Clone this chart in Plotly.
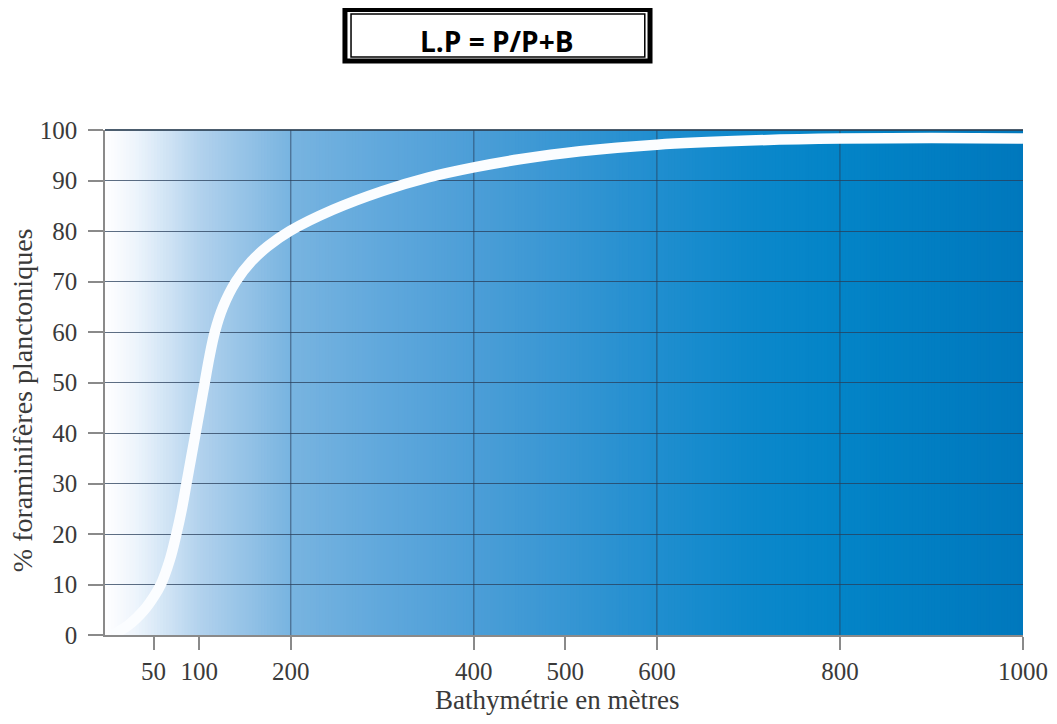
import plotly.graph_objects as go

# ---------------- data ----------------
depth_m = [5, 23, 40, 50, 58, 68, 75, 81, 86, 91, 96, 101, 106, 111, 117, 126,
           140, 157, 175, 199, 246, 300, 350, 400, 450, 516, 600, 700, 800, 900, 1000]
pct_planktonic = [0, 2, 5, 7.5, 10, 15, 20, 25, 30, 35, 40, 45, 50, 55, 60, 65,
                  70, 74, 77, 80, 84.2, 87.9, 90.6, 92.6, 94.2, 95.8, 97.1, 97.9, 98.3, 98.4, 98.3]
x_ticks = [50, 100, 200, 400, 500, 600, 800, 1000]
x_grid = [200, 400, 600, 800]
y_ticks = list(range(0, 101, 10))
title_text = "L.P = P/P+B"
x_title = "Bathymétrie en mètres"
y_title = "% foraminifères planctoniques"

# ---------------- styling ----------------
X_MIN, X_MAX = -3, 1000
grad_stops = [(-3, (255, 255, 255)), (30, (238, 245, 252)), (100, (178, 210, 237)),
              (200, (120, 180, 224)), (300, (96, 168, 220)), (400, (76, 158, 215)),
              (500, (55, 150, 211)), (600, (32, 142, 207)), (700, (12, 136, 203)),
              (800, (3, 132, 199)), (1000, (0, 120, 189))]

def grad_color(x):
    for (x0, c0), (x1, c1) in zip(grad_stops[:-1], grad_stops[1:]):
        if x0 <= x <= x1:
            t = (x - x0) / (x1 - x0)
            r, g, b = (round(a + (bb - a) * t) for a, bb in zip(c0, c1))
            return f"rgb({r},{g},{b})"
    return "rgb(0,120,189)"

serif = "Liberation Serif"
txt_col = "#3a3a3a"
grid_col = "rgba(40,62,90,0.75)"

fig = go.Figure()
fig.add_trace(go.Scatter(
    x=depth_m, y=pct_planktonic, mode="lines",
    line=dict(color="#fbfdff", width=10.5, shape="spline", smoothing=1.0),
    showlegend=False, hoverinfo="skip"))

shapes = []
N = 300
step = (X_MAX - X_MIN) / N
for i in range(N):
    xa = X_MIN + i * step
    shapes.append(dict(type="rect", xref="x", yref="paper", x0=xa, x1=xa + step * 1.6,
                       y0=0, y1=1, line=dict(width=0),
                       fillcolor=grad_color(xa + step / 2), layer="below"))
for gx in x_grid:
    shapes.append(dict(type="line", xref="x", yref="paper", x0=gx, x1=gx, y0=0, y1=1,
                       line=dict(color=grid_col, width=1), layer="between"))
# darker top border of the plotting area
shapes.append(dict(type="line", xref="paper", yref="paper", x0=0, x1=1, y0=1, y1=1,
                   line=dict(color="rgba(45,65,85,0.85)", width=2), layer="between"))

# title box (double border)
shapes.append(dict(type="rect", xref="paper", yref="paper",
                   x0=0.2614, x1=0.5937, y0=1.1366, y1=1.2386,
                   line=dict(color="black", width=5), fillcolor="white", layer="above"))
shapes.append(dict(type="rect", xref="paper", yref="paper",
                   x0=0.268, x1=0.588, y0=1.1446, y1=1.2297,
                   line=dict(color="black", width=1.5), layer="above"))

fig.update_layout(
    width=1040, height=708,
    margin=dict(l=97, r=25, t=122, b=81),
    paper_bgcolor="white", plot_bgcolor="white",
    shapes=shapes,
    xaxis=dict(range=[X_MIN, X_MAX], tickvals=x_ticks, ticks="outside", ticklen=13,
               tickcolor="#8a8a8a", tickwidth=1.5, showgrid=False, zeroline=False,
               showline=True, linecolor="#8a8a8a", linewidth=1.5,
               tickfont=dict(family=serif, size=25, color=txt_col),
               ticklabelstandoff=0, automargin=False, fixedrange=True),
    yaxis=dict(range=[0, 100], tickvals=y_ticks, ticks="outside", ticklen=15,
               tickcolor="#8a8a8a", tickwidth=1.5, showgrid=True, gridcolor=grid_col,
               gridwidth=1, zeroline=False, showline=True, linecolor="#8a8a8a",
               linewidth=1.5, tickfont=dict(family=serif, size=25, color=txt_col),
               ticklabelstandoff=6, automargin=False, fixedrange=True),
    annotations=[
        dict(text=f"<b>{title_text}</b>", xref="paper", yref="paper", x=0.427, y=1.176,
             showarrow=False, font=dict(family="Open Sans", size=28, color="black"),
             xanchor="center", yanchor="middle"),
        dict(text=x_title, xref="paper", yref="paper", x=0.492, y=-0.1287,
             showarrow=False, font=dict(family=serif, size=27, color=txt_col),
             xanchor="center", yanchor="middle"),
        dict(text=y_title, xref="paper", yref="paper", x=-0.0904, y=0.465,
             showarrow=False, textangle=-90, font=dict(family=serif, size=28, color=txt_col),
             xanchor="center", yanchor="middle"),
    ],
)

fig.write_html("out.html")
